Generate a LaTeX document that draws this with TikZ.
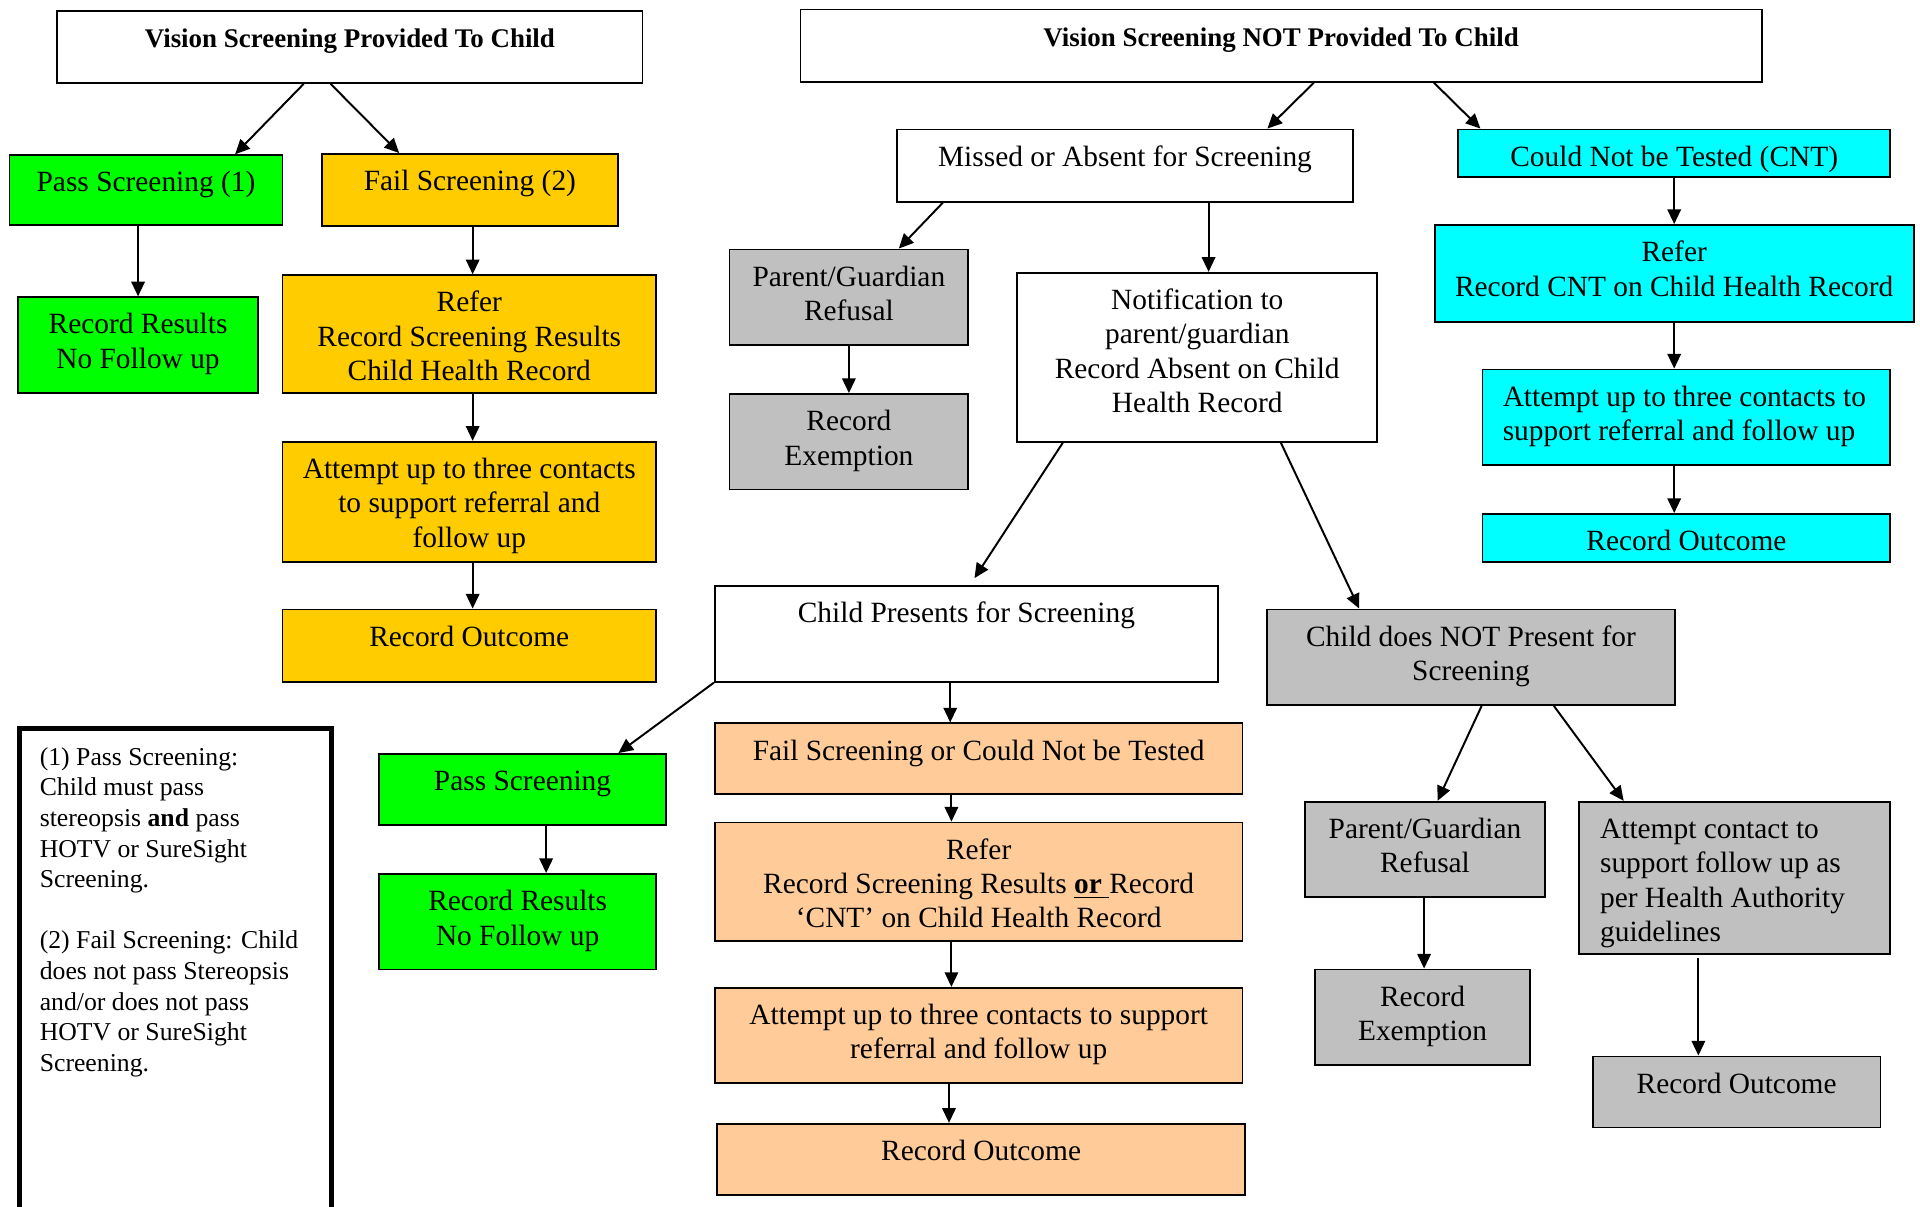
\documentclass[tikz,border=0pt]{standalone}
\usepackage{fontspec}
\setmainfont{Liberation Serif}
\usetikzlibrary{arrows.meta}
\definecolor{passgreen}{HTML}{00FF00}
\definecolor{failgold}{HTML}{FFCC00}
\definecolor{cntcyan}{HTML}{00FFFF}
\definecolor{absgray}{HTML}{C0C0C0}
\definecolor{peach}{HTML}{FFCC99}
\begin{document}
\begin{tikzpicture}[
    x=0.5pt, y=-0.5pt,
    box/.style={draw, line width=0.75pt, anchor=north west, align=flush center,
      inner xsep=0pt, inner ysep=0pt, text height=15pt,
      font=\fontsize{12pt}{14pt}\selectfont},
    head/.style={box, font=\bfseries\fontsize{11pt}{13pt}\selectfont},
    arr/.style={-{Triangle[length=6pt,width=5.5pt]}, line width=0.8pt},
  ]
  \useasboundingbox (0,0) rectangle (1568,985);

  % depistage fait
  \node[head, text width=239pt, text depth=14.5pt] (t1) at (46,8) {Vision Screening Provided To Child};
  \node[box, fill=passgreen, text width=111.5pt, text depth=13.5pt] (pass1) at (7,126) {Pass Screening (1)};
  \node[box, fill=failgold, text width=121pt, text depth=14.5pt] (fail1) at (262,125) {Fail Screening (2)};
  \node[box, fill=passgreen, text width=98pt, text depth=24pt] (rec1) at (14,242) {Record Results\\No Follow up};
  \node[box, fill=failgold, text width=152.5pt, text depth=33pt] (refer1) at (230,224) {Refer\\Record Screening Results\\Child Health Record};
  \node[box, fill=failgold, text width=152.5pt, text depth=34pt] (att1) at (230,360) {Attempt up to three contacts\\to support referral and\\follow up};
  \node[box, fill=failgold, text width=152.5pt, text depth=14.5pt] (out1) at (230,497) {Record Outcome};

  % legende
  \node[box, align=flush left, line width=2pt, text width=111pt, inner xsep=8.25pt, text depth=192pt,
    font=\fontsize{10.5pt}{12.5pt}\selectfont] (legend) at (14,593)
    {(1) Pass Screening:\\Child must pass\\stereopsis \textbf{and} pass\\HOTV or SureSight\\Screening.\\[12.5pt]
     (2) Fail Screening: Child\\does not pass Stereopsis\\and/or does not pass\\HOTV or SureSight\\Screening.};

  % depistage non fait
  \node[head, text width=392.5pt, text depth=14.5pt] (t2) at (653,7) {Vision Screening NOT Provided To Child};
  \node[box, text width=186pt, text depth=14.5pt] (missed) at (732,105) {Missed or Absent for Screening};
  \node[box, fill=cntcyan, text width=176.5pt, text depth=4.5pt] (cnt) at (1190,105) {Could Not be Tested (CNT)};
  \node[box, fill=absgray, text width=97.5pt, text depth=24pt] (pg1) at (595,203) {Parent/Guardian\\Refusal};
  \node[box, fill=absgray, text width=97.5pt, text depth=24pt] (ex1) at (595,321) {Record\\Exemption};
  \node[box, text width=147pt, text depth=54pt] (notif) at (830,222) {Notification to\\parent/guardian\\Record Absent on Child\\Health Record};
  \node[box, fill=cntcyan, text width=195.5pt, text depth=24.5pt] (refcnt) at (1171,183) {Refer\\Record CNT on Child Health Record};
  \node[box, fill=cntcyan, align=flush left, text width=150pt, inner xsep=8.25pt, text depth=24pt] (attcnt) at (1210,301) {Attempt up to three contacts to\\support referral and follow up};
  \node[box, fill=cntcyan, text width=166.5pt, text depth=4.5pt] (outcnt) at (1210,419) {Record Outcome};
  \node[box, text width=205.5pt, text depth=24pt] (pres) at (583,478) {Child Presents for Screening};
  \node[box, fill=absgray, text width=166.5pt, text depth=24pt] (notpres) at (1034,497) {Child does NOT Present for\\Screening};
  \node[box, fill=passgreen, text width=117pt, text depth=14pt] (pass2) at (309,615) {Pass Screening};
  \node[box, fill=passgreen, text width=113pt, text depth=24pt] (rec2) at (309,713) {Record Results\\No Follow up};
  \node[box, fill=peach, text width=215.5pt, text depth=14pt] (failcnt) at (583,590) {Fail Screening or Could Not be Tested};
  \node[box, fill=peach, text width=215.5pt, text depth=33.5pt] (refer2) at (583,671) {Refer\\Record Screening Results \underline{\textbf{or} }Record\\‘CNT’ on Child Health Record};
  \node[box, fill=peach, text width=215.5pt, text depth=24pt] (att2) at (583,806) {Attempt up to three contacts to support\\referral and follow up};
  \node[box, fill=peach, text width=215.5pt, text depth=14pt] (out2) at (585,917) {Record Outcome};
  \node[box, fill=absgray, text width=98pt, text depth=24pt] (pg2) at (1065,654) {Parent/Guardian\\Refusal};
  \node[box, fill=absgray, align=flush left, text width=110pt, inner xsep=8.5pt, text depth=47pt] (attha) at (1289,654) {Attempt contact to\\support follow up as\\per Health Authority\\guidelines};
  \node[box, fill=absgray, text width=88pt, text depth=24pt] (ex2) at (1073,791) {Record\\Exemption};
  \node[box, fill=absgray, text width=117.5pt, text depth=14pt] (outha) at (1300,862) {Record Outcome};

  % fleches
  \draw[arr] (t1.south -| 248,0) -- (pass1.north -| 192,0);
  \draw[arr] (t1.south -| 270,0) -- (fail1.north -| 326,0);
  \draw[arr] (pass1.south -| rec1.north) -- (rec1.north);
  \draw[arr] (fail1.south -| 386,0) -- (refer1.north -| 386,0);
  \draw[arr] (refer1.south -| 386,0) -- (att1.north -| 386,0);
  \draw[arr] (att1.south -| 386,0) -- (out1.north -| 386,0);
  \draw[arr] (t2.south -| 1073,0) -- (missed.north -| 1035,0);
  \draw[arr] (t2.south -| 1171,0) -- (cnt.north -| 1209,0);
  \draw[arr] (missed.south -| 770,0) -- (pg1.north -| 734,0);
  \draw[arr] (missed.south -| 987,0) -- (notif.north -| 987,0);
  \draw[arr] (pg1.south) -- (ex1.north);
  \draw[arr] (cnt.south) -- (refcnt.north);
  \draw[arr] (refcnt.south) -- (attcnt.north -| refcnt.south);
  \draw[arr] (attcnt.south -| refcnt.south) -- (outcnt.north -| refcnt.south);
  \draw[arr, shorten >=3.5pt] (notif.south -| 868,0) -- (pres.north -| 792,0);
  \draw[arr] (notif.south -| 1046,0) -- (notpres.north -| 1110,0);
  \draw[arr] (pres.south west) -- (pass2.north -| 505,0);
  \draw[arr] (pass2.south -| 446,0) -- (rec2.north -| 446,0);
  \draw[arr] (pres.south -| 776,0) -- (failcnt.north -| 776,0);
  \draw[arr] (failcnt.south -| 777,0) -- (refer2.north -| 777,0);
  \draw[arr] (refer2.south -| 777,0) -- (att2.north -| 777,0);
  \draw[arr] (att2.south -| 775,0) -- (out2.north -| 775,0);
  \draw[arr] (notpres.south -| 1210,0) -- (pg2.north -| 1174,0);
  \draw[arr] (notpres.south -| 1269,0) -- (attha.north -| 1326,0);
  \draw[arr] (pg2.south -| 1163,0) -- (ex2.north -| 1163,0);
  \draw[arr, shorten <=1.5pt] (attha.south -| 1387,0) -- (outha.north -| 1387,0);
\end{tikzpicture}
\end{document}
